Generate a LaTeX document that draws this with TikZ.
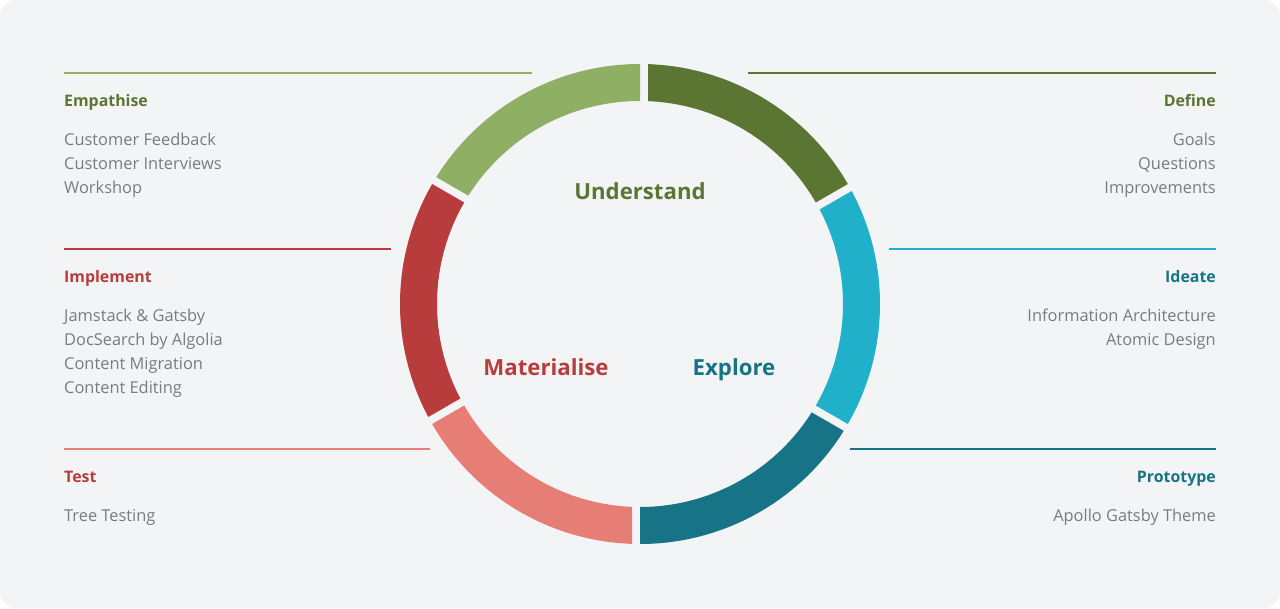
\documentclass[tikz,border=0pt]{standalone}
\usepackage{fontspec}
\setmainfont{Open Sans}
\begin{document}
\definecolor{bgpanel}{HTML}{F3F4F6}
\definecolor{leaf}{HTML}{8FAF64}
\definecolor{moss}{HTML}{5B7533}
\definecolor{sky}{HTML}{21B0C9}
\definecolor{ocean}{HTML}{177386}
\definecolor{brick}{HTML}{B83C3C}
\definecolor{coral}{HTML}{E67E76}
\definecolor{itemgray}{HTML}{767B86}
\begin{tikzpicture}[x=1pt,y=1pt,
  heading/.style={font=\fontsize{15.9}{16}\selectfont\bfseries, inner sep=0pt},
  item/.style={font=\fontsize{16.4}{16}\selectfont, text=itemgray, inner sep=0pt},
  phase/.style={font=\fontsize{22.2}{22}\selectfont\bfseries, inner sep=0pt, anchor=base},
  rule/.style={line width=2pt}]
  % page and panel
  \useasboundingbox (0,0) rectangle (1280,608);
  \fill[white] (0,0) rectangle (1280,608);
  \fill[bgpanel, rounded corners=16pt] (0,0) rectangle (1280,608);

  % ring of six segments; each starts 8px clockwise of its boundary
  \begin{scope}[shift={(640,304)}]
    \foreach \a/\c in {90/moss, 30/sky, -30/ocean, -90/coral, -150/brick, 150/leaf}{
      \fill[\c] (\a-1.910:240) arc[start angle=\a-1.910, end angle=\a-60, radius=240]
        -- (\a-60:203) arc[start angle=\a-60, end angle=\a-2.259, radius=203] -- cycle;
    }
  \end{scope}

  % centre labels
  \node[phase, text=moss]  (understand) at (640,408.7) {Understand};
  \node[phase, text=brick] (materialise) at (546,232) {Materialise};
  \node[phase, text=ocean] (explore) at (734,232) {Explore};

  % left column
  \coordinate (eA) at (64,535.3);  \coordinate (eB) at (532,535.3);
  \draw[rule, leaf] (eA) -- (eB);
  \node[heading, text=moss, anchor=base west] (empathise) at (64,501.3) {Empathise};
  \node[item, anchor=base west] (e1) at (64,462) {Customer Feedback};
  \node[item, anchor=base west] (e2) at (64,438) {Customer Interviews};
  \node[item, anchor=base west] (e3) at (64,414) {Workshop};

  \coordinate (iA) at (64,359.3);  \coordinate (iB) at (391,359.3);
  \draw[rule, brick] (iA) -- (iB);
  \node[heading, text=brick, anchor=base west] (implement) at (64,325.3) {Implement};
  \node[item, anchor=base west] (i1) at (64,286) {Jamstack \& Gatsby};
  \node[item, anchor=base west] (i2) at (64,262) {DocSearch by Algolia};
  \node[item, anchor=base west] (i3) at (64,238) {Content Migration};
  \node[item, anchor=base west] (i4) at (64,214) {Content Editing};

  \coordinate (tA) at (64,159.3);  \coordinate (tB) at (430,159.3);
  \draw[rule, coral] (tA) -- (tB);
  \node[heading, text=brick, anchor=base west] (test) at (64,125.3) {Test};
  \node[item, anchor=base west] (t1) at (64,86) {Tree Testing};

  % right column
  \coordinate (dA) at (748,535.3);  \coordinate (dB) at (1216,535.3);
  \draw[rule, moss] (dA) -- (dB);
  \node[heading, text=moss, anchor=base east] (define) at (1216,501.3) {Define};
  \node[item, anchor=base east] (d1) at (1216,462) {Goals};
  \node[item, anchor=base east] (d2) at (1216,438) {Questions};
  \node[item, anchor=base east] (d3) at (1216,414) {Improvements};

  \coordinate (aA) at (889,359.3);  \coordinate (aB) at (1216,359.3);
  \draw[rule, sky] (aA) -- (aB);
  \node[heading, text=ocean, anchor=base east] (ideate) at (1216,325.3) {Ideate};
  \node[item, anchor=base east] (a1) at (1216,286) {Information Architecture};
  \node[item, anchor=base east] (a2) at (1216,262) {Atomic Design};

  \coordinate (pA) at (850,159.3);  \coordinate (pB) at (1216,159.3);
  \draw[rule, ocean] (pA) -- (pB);
  \node[heading, text=ocean, anchor=base east] (prototype) at (1216,125.3) {Prototype};
  \node[item, anchor=base east] (p1) at (1216,86) {Apollo Gatsby Theme};
\end{tikzpicture}
\end{document}
